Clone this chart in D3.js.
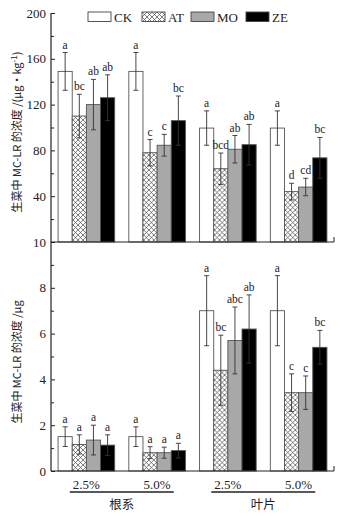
<!DOCTYPE html>
<html>
<head>
<meta charset="utf-8">
<script src="https://cdn.jsdelivr.net/npm/d3@7"></script>
<style>
  body { margin: 0; background: #fff; }
  text { font-family: "Liberation Serif", "Noto Sans CJK SC", serif; fill: #222; }
  .cjk { font-family: "Noto Sans CJK SC", sans-serif; }
</style>
</head>
<body>
<div id="chart"></div>
<script>
const treatments = ["CK", "AT", "MO", "ZE"];
const concentrations = ["2.5%", "5.0%", "2.5%", "5.0%"];
const parts = ["根系", "叶片"];

// upper panel: μg·kg-1
const topMeans = [[149, 110, 120, 126], [149, 78, 84.5, 106], [99.5, 64, 81, 85], [99.5, 44, 48, 73.5]];
const topErr = [[16.5, 19, 22, 20], [16.5, 11.5, 9.5, 21.5], [15, 13.7, 12, 17.7], [15, 7.3, 7.6, 17.8]];
const topLetters = [["a", "bc", "ab", "ab"], ["a", "c", "c", "bc"], ["a", "bcd", "ab", "ab"], ["a", "d", "cd", "bc"]];

// lower panel: μg
const botMeans = [[1.5, 1.16, 1.35, 1.13], [1.5, 0.8, 0.8, 0.89], [7.0, 4.4, 5.7, 6.2], [7.0, 3.42, 3.42, 5.4]];
const botErr = [[0.43, 0.42, 0.65, 0.45], [0.43, 0.26, 0.24, 0.32], [1.53, 1.53, 1.46, 1.49], [1.53, 0.82, 0.73, 0.74]];
const botLetters = [["a", "a", "a", "a"], ["a", "a", "a", "a"], ["a", "bc", "abc", "ab"], ["a", "c", "c", "bc"]];

const topTicks = [40, 80, 120, 160, 200];
const botTicks = [0, 2, 4, 6, 8, 10];

const width = 348, height = 516;
const left = 51, right = 334;

const svg = d3.select("#chart").append("svg")
  .attr("width", width).attr("height", height);

// hatch for AT
const defs = svg.append("defs");
const pat = defs.append("pattern")
  .attr("id", "hatch")
  .attr("patternUnits", "userSpaceOnUse")
  .attr("width", 5).attr("height", 5);
pat.append("rect").attr("width", 5).attr("height", 5).attr("fill", "#fff");
pat.append("path").attr("d", "M0,0L5,5M5,0L0,5M-1,4L1,6M4,-1L6,1M-1,1L1,-1M4,6L6,4")
  .attr("stroke", "#444").attr("stroke-width", 0.7);

const fills = { CK: "#fff", AT: "url(#hatch)", MO: "#a8a8a8", ZE: "#000" };

const x0 = d3.scaleBand().domain(d3.range(4)).range([left, right])
  .paddingInner(0.2).paddingOuter(0.1);
const x1 = d3.scaleBand().domain(treatments).range([0, x0.bandwidth()]);

function panel(yScale, means, errs, letters, majors, minors, labelFmt, title, titleY) {
  const g = svg.append("g");

  // bars
  const grp = g.selectAll(".grp").data(means).join("g")
    .attr("transform", (d, i) => `translate(${x0(i)},0)`);

  grp.each(function (row, gi) {
    const sel = d3.select(this);
    const items = row.map((v, k) => ({ t: treatments[k], v, e: errs[gi][k], l: letters[gi][k] }));

    sel.selectAll("rect").data(items).join("rect")
      .attr("x", (d) => x1(d.t))
      .attr("y", (d) => yScale(d.v))
      .attr("width", x1.bandwidth())
      .attr("height", (d) => yScale(0) - yScale(d.v))
      .attr("fill", (d) => fills[d.t])
      .attr("stroke", "#555")
      .attr("stroke-width", 0.9);

    const eb = sel.selectAll(".eb").data(items).join("g")
      .attr("transform", (d) => `translate(${x1(d.t) + x1.bandwidth() / 2},0)`);
    eb.append("line")
      .attr("y1", (d) => yScale(d.v - d.e)).attr("y2", (d) => yScale(d.v + d.e))
      .attr("stroke", "#333").attr("stroke-width", 0.9);
    eb.append("line")
      .attr("x1", -2.5).attr("x2", 2.5)
      .attr("y1", (d) => yScale(d.v + d.e)).attr("y2", (d) => yScale(d.v + d.e))
      .attr("stroke", "#333").attr("stroke-width", 0.9);
    eb.append("line")
      .attr("x1", -2.5).attr("x2", 2.5)
      .attr("y1", (d) => yScale(d.v - d.e)).attr("y2", (d) => yScale(d.v - d.e))
      .attr("stroke", "#333").attr("stroke-width", 0.9);
    eb.append("text")
      .attr("y", (d) => yScale(d.v + d.e) - 4)
      .attr("text-anchor", "middle")
      .attr("font-size", 11.5)
      .text((d) => d.l);
  });

  // y axis, ticks inward
  const yAxis = d3.axisRight(yScale).tickValues(majors).tickSize(4).tickFormat("");
  g.append("g").attr("transform", `translate(${left},0)`).call(yAxis)
    .call((a) => a.select(".domain").remove())
    .call((a) => a.selectAll("line").attr("stroke", "#222"));
  const yMinor = d3.axisRight(yScale).tickValues(minors).tickSize(3).tickFormat("");
  g.append("g").attr("transform", `translate(${left},0)`).call(yMinor)
    .call((a) => a.select(".domain").remove())
    .call((a) => a.selectAll("line").attr("stroke", "#222"));

  g.selectAll(".ylab").data(majors).join("text")
    .attr("x", left - 5)
    .attr("y", (d) => yScale(d) + 4.5)
    .attr("text-anchor", "end")
    .attr("font-size", 13)
    .text(labelFmt);

  // x axis line with end tick
  const y0 = yScale(0);
  g.append("line").attr("x1", left).attr("x2", right).attr("y1", y0).attr("y2", y0)
    .attr("stroke", "#222").attr("stroke-width", 1.2);
  g.append("line").attr("x1", right).attr("x2", right).attr("y1", y0).attr("y2", y0 - 5)
    .attr("stroke", "#222").attr("stroke-width", 1);

  // axis title
  svg.append("text")
    .attr("class", "cjk")
    .attr("transform", `translate(21,${titleY}) rotate(-90)`)
    .attr("text-anchor", "middle")
    .attr("font-size", 11)
    .text(title);
}

const yTop = d3.scaleLinear().domain([0, 200]).range([242, 13]);
const yBot = d3.scaleLinear().domain([0, 10]).range([471, 242]);

panel(yTop, topMeans, topErr, topLetters, topTicks, [20, 60, 100, 140, 180],
  (d) => d, "", 0);
panel(yBot, botMeans, botErr, botLetters, botTicks, [1, 3, 5, 7, 9],
  (d) => d, "", 0);

// y titles with superscript
const t1 = svg.append("text").attr("class", "cjk")
  .attr("transform", "translate(21,132) rotate(-90)")
  .attr("text-anchor", "middle").attr("font-size", 11);
t1.append("tspan").text("生菜中 MC-LR 的浓度 /(μg·kg");
t1.append("tspan").attr("dy", -4).attr("font-size", 8).text("-1");
t1.append("tspan").attr("dy", 4).text(")");

svg.append("text").attr("class", "cjk")
  .attr("transform", "translate(21,362) rotate(-90)")
  .attr("text-anchor", "middle").attr("font-size", 11)
  .text("生菜中 MC-LR 的浓度 /μg");

// main y axis line
svg.append("line").attr("x1", left).attr("x2", left).attr("y1", 13).attr("y2", 471)
  .attr("stroke", "#222").attr("stroke-width", 1.2);

// x labels
svg.selectAll(".xlab").data(concentrations).join("text")
  .attr("x", (d, i) => x0(i) + x0.bandwidth() / 2)
  .attr("y", 489)
  .attr("text-anchor", "middle")
  .attr("font-size", 13)
  .text((d) => d);

const partG = svg.selectAll(".part").data(parts).join("g")
  .attr("transform", (d, i) => {
    const c = (x0(i * 2) + x0(i * 2 + 1) + x0.bandwidth()) / 2;
    return `translate(${c},0)`;
  });
partG.append("line").attr("x1", -52).attr("x2", 52).attr("y1", 492).attr("y2", 492)
  .attr("stroke", "#222").attr("stroke-width", 1.5);
partG.append("text").attr("class", "cjk")
  .attr("y", 509).attr("text-anchor", "middle").attr("font-size", 12.5)
  .text((d) => d);

// legend
const lg = svg.selectAll(".lg").data(treatments).join("g")
  .attr("transform", (d, i) => `translate(${[88, 142, 191, 246][i]},12)`);
lg.append("rect").attr("width", 23).attr("height", 9.5)
  .attr("fill", (d) => fills[d]).attr("stroke", "#444").attr("stroke-width", 0.9);
lg.append("text").attr("x", 26).attr("y", 9.5).attr("font-size", 13).text((d) => d);
</script>
</body>
</html>
